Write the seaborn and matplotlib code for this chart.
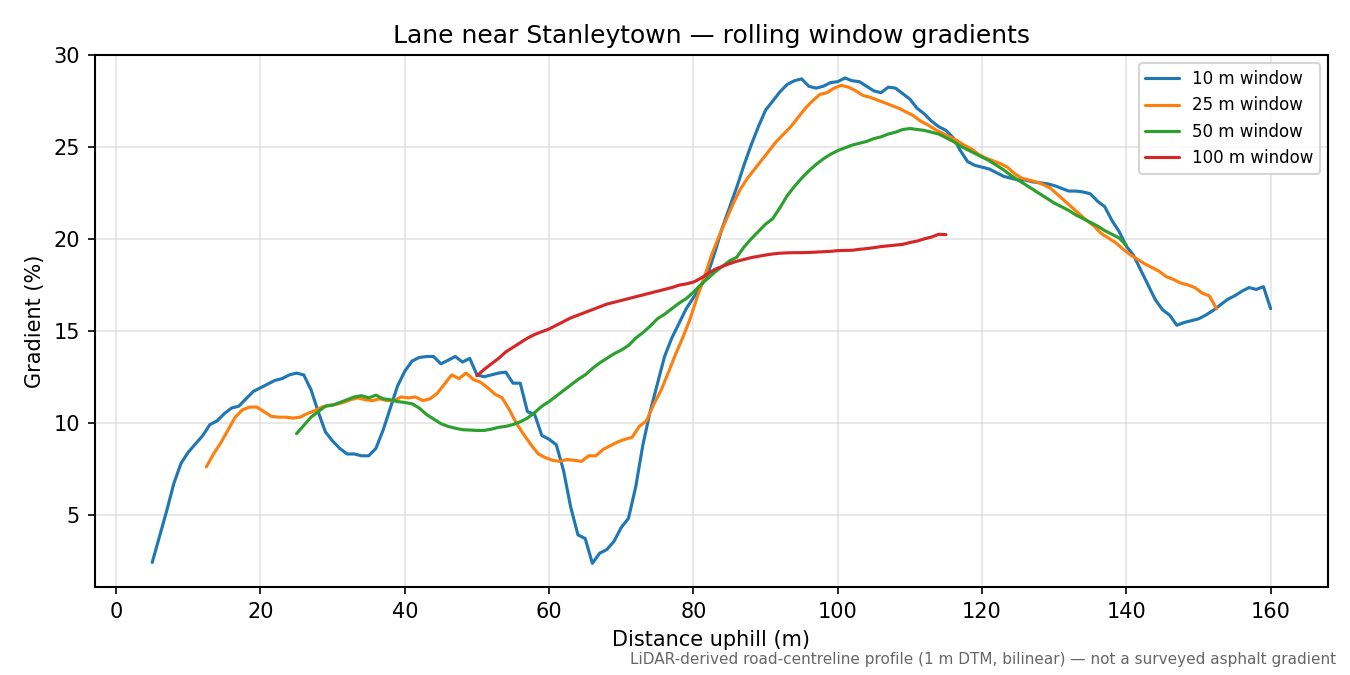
import numpy as np
import pandas as pd
import seaborn as sns
import matplotlib.pyplot as plt

# distances along the lane (m) where each rolling-window gradient is reported
dist_10 = np.arange(5, 161, 1.0)
dist_25 = np.arange(12.5, 153, 1.0)
dist_50 = np.arange(25, 141, 1.0)
dist_100 = np.arange(50, 116, 1.0)

grad_10 = [
    2.4, 3.8, 5.2, 6.7, 7.8, 8.4, 8.85, 9.3, 9.9, 10.1, 10.5, 10.8, 10.9, 11.3, 11.7, 11.9,
    12.1, 12.3, 12.4, 12.6, 12.7, 12.6, 11.8, 10.6, 9.5, 9.0, 8.6, 8.3, 8.3, 8.2,
    8.2, 8.6, 9.6, 10.8, 12.0, 12.8, 13.35, 13.55, 13.6, 13.6, 13.2, 13.4, 13.6, 13.3,
    13.5, 12.6, 12.5, 12.6, 12.7, 12.75, 12.15, 12.15, 10.6, 10.45, 9.3, 9.1, 8.8, 7.4,
    5.4, 3.9, 3.7, 2.35, 2.9, 3.1, 3.55, 4.3, 4.8, 6.5, 8.8, 10.6, 12.1, 13.6, 14.6,
    15.4, 16.2, 16.8, 17.4, 18.1, 19.3, 20.6, 21.7, 22.8, 24.0, 25.1, 26.1, 27.0, 27.5,
    28.0, 28.4, 28.6, 28.7, 28.3, 28.2, 28.3, 28.5, 28.55, 28.75, 28.6, 28.55, 28.3,
    28.05, 27.95, 28.25, 28.2, 27.9, 27.6, 27.1, 26.8, 26.4, 26.1, 25.9, 25.5, 24.8,
    24.2, 24.0, 23.9, 23.8, 23.6, 23.4, 23.3, 23.2, 23.2, 23.1, 23.05, 23.0, 22.9,
    22.75, 22.6, 22.6, 22.55, 22.45, 22.05, 21.75, 21.0, 20.4, 19.6, 19.1, 18.3, 17.5,
    16.7, 16.15, 15.85, 15.3, 15.45, 15.55, 15.65, 15.85, 16.1, 16.4, 16.7, 16.9, 17.15,
    17.35, 17.25, 17.4, 16.2,
]

grad_25 = [
    7.6, 8.3, 8.9, 9.6, 10.3, 10.7, 10.85, 10.85, 10.6, 10.35, 10.3, 10.3, 10.25, 10.3,
    10.5, 10.65, 10.85, 10.95, 11.0, 11.1, 11.25, 11.35, 11.25, 11.2, 11.3, 11.2, 11.2,
    11.4, 11.35, 11.4, 11.2, 11.3, 11.6, 12.1, 12.6, 12.4, 12.7, 12.35, 12.2, 11.9,
    11.55, 11.35, 10.7, 9.95, 9.35, 8.8, 8.3, 8.1, 7.95, 7.9, 8.0, 7.95, 7.9, 8.2, 8.2,
    8.55, 8.75, 8.95, 9.1, 9.2, 9.8, 10.1, 11.0, 11.75, 12.7, 13.7, 14.6, 15.6, 16.8,
    17.9, 19.1, 20.1, 21.0, 21.9, 22.7, 23.3, 23.8, 24.3, 24.8, 25.3, 25.7, 26.1, 26.6,
    27.1, 27.5, 27.85, 27.95, 28.2, 28.35, 28.25, 28.05, 27.8, 27.7, 27.55, 27.4, 27.25,
    27.1, 26.9, 26.7, 26.4, 26.2, 25.95, 25.75, 25.55, 25.35, 25.1, 24.9, 24.6, 24.4,
    24.25, 24.1, 23.9, 23.55, 23.3, 23.2, 23.1, 22.95, 22.75, 22.4, 22.05, 21.7, 21.35,
    21.0, 20.7, 20.3, 20.05, 19.8, 19.45, 19.15, 18.9, 18.65, 18.45, 18.25, 17.95, 17.8,
    17.6, 17.5, 17.35, 17.05, 16.9, 16.2,
]

grad_50 = [
    9.4, 9.85, 10.3, 10.6, 10.9, 10.95, 11.1, 11.25, 11.4, 11.47, 11.35, 11.5, 11.3,
    11.25, 11.15, 11.1, 11.03, 10.8, 10.45, 10.2, 9.95, 9.8, 9.7, 9.62, 9.6, 9.58, 9.58,
    9.65, 9.75, 9.8, 9.9, 10.05, 10.25, 10.55, 10.9, 11.15, 11.45, 11.75, 12.05, 12.35,
    12.6, 12.95, 13.25, 13.5, 13.75, 13.95, 14.2, 14.6, 14.9, 15.25, 15.65, 15.9, 16.2,
    16.5, 16.75, 17.1, 17.5, 17.85, 18.2, 18.5, 18.8, 19.0, 19.55, 20.0, 20.4, 20.8,
    21.1, 21.7, 22.35, 22.85, 23.3, 23.7, 24.05, 24.35, 24.6, 24.8, 24.95, 25.1, 25.2,
    25.3, 25.45, 25.55, 25.7, 25.8, 25.95, 26.0, 25.95, 25.9, 25.8, 25.7, 25.5, 25.3,
    25.05, 24.85, 24.65, 24.45, 24.25, 24.0, 23.75, 23.45, 23.2, 22.95, 22.7, 22.45,
    22.2, 21.95, 21.75, 21.55, 21.3, 21.1, 20.9, 20.7, 20.45, 20.25, 20.05, 19.65,
]

grad_100 = [
    12.55, 12.9, 13.2, 13.5, 13.85, 14.1, 14.35, 14.6, 14.8, 14.95, 15.1, 15.3, 15.5,
    15.7, 15.85, 16.0, 16.15, 16.3, 16.45, 16.55, 16.65, 16.75, 16.85, 16.95, 17.05,
    17.15, 17.25, 17.35, 17.48, 17.55, 17.65, 17.85, 18.1, 18.35, 18.5, 18.65, 18.78,
    18.88, 18.98, 19.05, 19.12, 19.18, 19.22, 19.24, 19.25, 19.25, 19.26, 19.28, 19.3,
    19.32, 19.36, 19.37, 19.38, 19.43, 19.47, 19.52, 19.58, 19.62, 19.66, 19.7, 19.8,
    19.88, 20.0, 20.1, 20.25, 20.23,
]

window_labels = ["10 m window", "25 m window", "50 m window", "100 m window"]
series = [(dist_10, grad_10), (dist_25, grad_25), (dist_50, grad_50), (dist_100, grad_100)]

frames = []
for label, (d, g) in zip(window_labels, series):
    frames.append(pd.DataFrame({"distance": d, "gradient": g, "window": label}))
df = pd.concat(frames, ignore_index=True)

sns.set_style("white")
plt.rcParams['font.family'] = ['DejaVu Sans']
plt.rcParams.update({"text.color": "black", "axes.labelcolor": "black",
                     "xtick.color": "black", "ytick.color": "black"})

fig, ax = plt.subplots(figsize=(9, 4.5), dpi=150)
fig.subplots_adjust(left=0.070, right=0.984, top=0.9185, bottom=0.130)

palette = ["#1f77b4", "#ff7f0e", "#2ca02c", "#d62728"]
sns.lineplot(data=df, x="distance", y="gradient", hue="window", hue_order=window_labels,
             palette=palette, linewidth=1.5, estimator=None, sort=True, ax=ax)

ax.set_xlim(-3, 168)
ax.set_ylim(1.05, 30)
ax.set_xticks([0, 20, 40, 60, 80, 100, 120, 140, 160])
ax.set_yticks([5, 10, 15, 20, 25, 30])
ax.grid(True, color="#cccccc", alpha=0.5, linewidth=0.8)
for s in ax.spines.values():
    s.set_color("black")
    s.set_linewidth(1.0)
ax.tick_params(axis="both", which="major", length=3.5, width=0.8, color="black",
               labelsize=10, left=True, bottom=True)

ax.set_title("Lane near Stanleytown — rolling window gradients", fontsize=12)
ax.set_xlabel("Distance uphill (m)", fontsize=10)
ax.set_ylabel("Gradient (%)", fontsize=10)

handles, labels = ax.get_legend_handles_labels()
ax.legend(handles, labels, loc="upper right", fontsize=8, framealpha=0.8)

fig.text(0.99, 0.012, "LiDAR-derived road-centreline profile (1 m DTM, bilinear) — not a surveyed asphalt gradient",
         ha="right", va="bottom", fontsize=7.3, color="#666666")

fig.savefig("out.png", dpi=150)
